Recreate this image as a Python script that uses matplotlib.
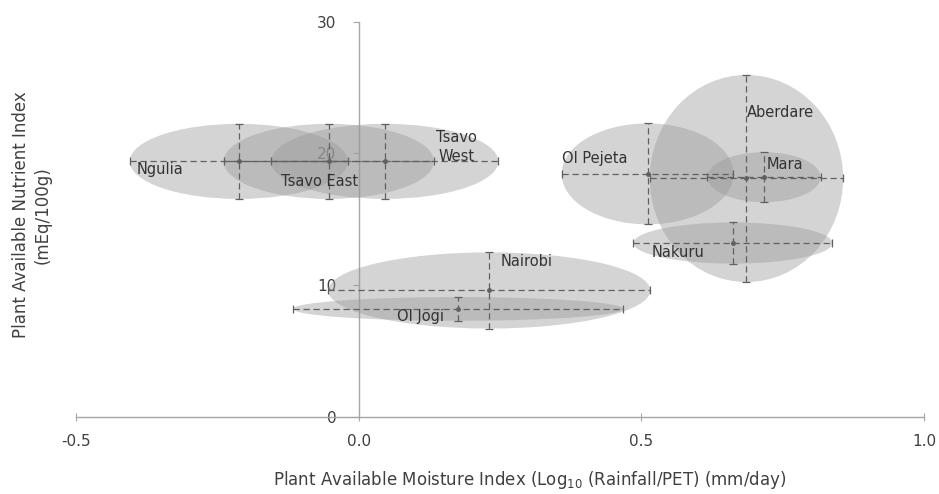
import matplotlib
matplotlib.use("Agg")
import matplotlib.pyplot as plt
from matplotlib.patches import Ellipse

# site means and spreads
sites = ["Ngulia", "Tsavo East", "Tsavo\nWest", "Ol Pejeta", "Aberdare",
         "Mara", "Nakuru", "Nairobi", "Ol Jogi"]
moisture = [-0.212, -0.053, 0.046, 0.511, 0.686, 0.717, 0.662, 0.231, 0.176]
nutrient = [19.4, 19.4, 19.4, 18.45, 18.1, 18.2, 13.2, 9.6, 8.2]
moisture_err = [0.193, 0.186, 0.201, 0.152, 0.171, 0.10, 0.176, 0.285, 0.292]
nutrient_err = [2.85, 2.85, 2.85, 3.83, 7.86, 1.9, 1.56, 2.89, 0.9]

xticks = [-0.5, 0.0, 0.5, 1.0]
yticks = [0, 10, 20, 30]

# where each site name sits relative to its mean (layout only)
label_offset = [(-0.14, -0.65), (-0.016, -1.5), (0.127, 1.1), (-0.094, 1.2), (0.06, 5.0),
                (0.037, 0.95), (-0.097, -0.75), (0.066, 2.2), (-0.066, -0.55)]

plt.rcParams['font.family'] = ['Liberation Sans Narrow', 'DejaVu Sans']
txt = '#404040'

fig = plt.figure(figsize=(9.39, 4.94), dpi=100)
ax = fig.add_axes([0.081, 0.156, 0.903, 0.8])

for i in range(len(sites)):
    e = Ellipse((moisture[i], nutrient[i]), 2 * moisture_err[i], 2 * nutrient_err[i],
                facecolor='#999999', alpha=0.42, edgecolor='none', zorder=3)
    ax.add_patch(e)

eb = ax.errorbar(moisture, nutrient, xerr=moisture_err, yerr=nutrient_err,
                 fmt='o', ms=2.5, color='#606060', ecolor='#606060', elinewidth=0.9,
                 capsize=3, capthick=0.9, zorder=4)
for lc in eb[2]:
    lc.set_linestyle((0, (5, 3)))

for i, s in enumerate(sites):
    ax.text(moisture[i] + label_offset[i][0], nutrient[i] + label_offset[i][1], s,
            ha='center', va='center', fontsize=10.5, color='#333333', zorder=5,
            linespacing=1.3)

ax.set_xlim(-0.5, 1.0)
ax.set_ylim(0, 30)
ax.set_xticks(xticks)
ax.set_xticklabels(['%.1f' % v for v in xticks])
ax.set_yticks(yticks)

ax.spines['left'].set_position(('data', 0))
ax.spines['top'].set_visible(False)
ax.spines['right'].set_visible(False)
for sp in ['left', 'bottom']:
    ax.spines[sp].set_color('#a6a6a6')
    ax.spines[sp].set_linewidth(1.0)

ax.tick_params(axis='x', direction='inout', length=6, color='#a6a6a6', pad=9,
               labelsize=11, labelcolor=txt)
ax.tick_params(axis='y', direction='out', length=4, color='#a6a6a6', pad=12,
               labelsize=11, labelcolor=txt)

ax.set_xlabel('Plant Available Moisture Index (Log$_{10}$ (Rainfall/PET) (mm/day)',
              fontsize=12, color=txt)
ax.xaxis.set_label_coords(0.535, -0.133)
fig.text(0.034, 0.565, 'Plant Available Nutrient Index\n(mEq/100g)', rotation=90,
         ha='center', va='center', fontsize=12, color=txt, linespacing=1.3)

fig.savefig('out.png', dpi=100)
